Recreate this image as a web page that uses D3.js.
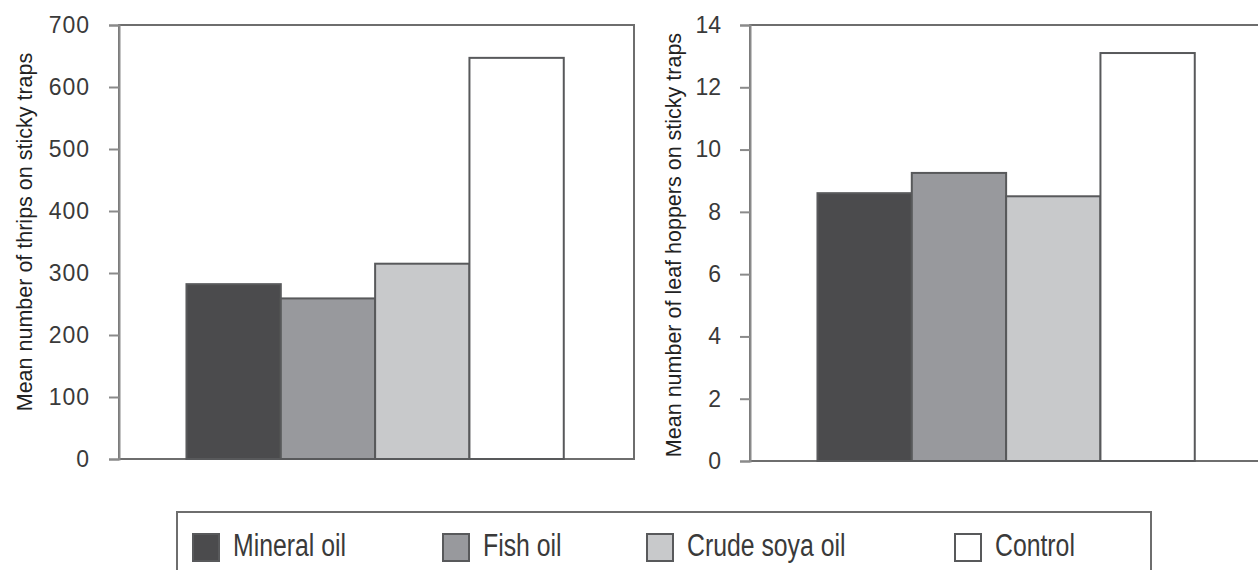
<!DOCTYPE html>
<html>
<head>
<meta charset="utf-8">
<script src="https://cdn.jsdelivr.net/npm/d3@7"></script>
<style>
  html, body { margin: 0; padding: 0; background: #fff; }
  svg { display: block; }
</style>
</head>
<body>
<svg id="chart" width="1258" height="570"></svg>
<script>
// ---- data ----
const series = ["Mineral oil", "Fish oil", "Crude soya oil", "Control"];
const thripsValues = [282, 259, 315, 647];
const hopperValues = [8.6, 9.25, 8.5, 13.1];
const thripsTicks = [0, 100, 200, 300, 400, 500, 600, 700];
const hopperTicks = [0, 2, 4, 6, 8, 10, 12, 14];
const thripsTitle = "Mean number of thrips on sticky traps";
const hopperTitle = "Mean number of leaf hoppers on sticky traps";

// ---- styles ----
const fills = ["#4b4b4d", "#98999d", "#c8c9cb", "#ffffff"];
const outline = "#58595b";
const frameColor = "#6e6e6e";
const textColor = "#3a3a3a";

const svg = d3.select("#chart");
const color = d3.scaleOrdinal().domain(series).range(fills);

function panel(opts) {
  const { left, right, top, bottom, values, ticks, title, titleX, titleY, spacing } = opts;
  const x = d3.scaleBand().domain(series).range([left, right])
    .paddingInner(0).paddingOuter(0.73).align(0.49);
  const y = d3.scaleLinear().domain([ticks[0], ticks[ticks.length - 1]]).range([bottom, top]);

  const g = svg.append("g");

  // frame
  g.append("rect")
    .attr("x", left).attr("y", top)
    .attr("width", right - left).attr("height", bottom - top)
    .attr("fill", "none").attr("stroke", frameColor).attr("stroke-width", 2);

  // bars
  g.selectAll("rect.bar").data(values).join("rect")
    .attr("class", "bar")
    .attr("x", (d, i) => x(series[i]))
    .attr("y", d => y(d))
    .attr("width", x.bandwidth())
    .attr("height", d => y(0) - y(d))
    .attr("fill", (d, i) => color(series[i]))
    .attr("stroke", outline)
    .attr("stroke-width", 2);

  // axis
  const axis = d3.axisLeft(y).tickValues(ticks).tickSize(10).tickPadding(19)
    .tickFormat(d3.format("d"));
  const ag = g.append("g").attr("transform", `translate(${left},0)`).call(axis);
  ag.select(".domain").attr("stroke", "#8a8a8a").attr("stroke-width", 2);
  ag.selectAll(".tick line").attr("stroke", "#8a8a8a").attr("stroke-width", 2);
  ag.selectAll(".tick text")
    .attr("fill", textColor)
    .style("font-family", "'Liberation Sans', Arial, sans-serif")
    .style("font-size", "23px")
    .style("letter-spacing", spacing + "px");

  // axis title
  g.append("text")
    .attr("transform", `translate(${titleX},${titleY}) rotate(-90)`)
    .attr("text-anchor", "middle")
    .attr("dominant-baseline", "central")
    .attr("fill", "#222")
    .style("font-family", "'Liberation Sans', Arial, sans-serif")
    .style("font-size", "21.5px")
    .text(title);
}

panel({ left: 119, right: 634, top: 25, bottom: 459, values: thripsValues,
        ticks: thripsTicks, title: thripsTitle, titleX: 25, titleY: 232, spacing: 1 });
panel({ left: 750, right: 1265, top: 25, bottom: 461, values: hopperValues,
        ticks: hopperTicks, title: hopperTitle, titleX: 674, titleY: 245, spacing: 0 });

// ---- legend ----
const legendX = [193, 443, 647, 955];
const lg = svg.append("g");
lg.append("rect")
  .attr("x", 177).attr("y", 512).attr("width", 974).attr("height", 80)
  .attr("fill", "none").attr("stroke", frameColor).attr("stroke-width", 2);

const items = lg.selectAll("g.item").data(series).join("g")
  .attr("class", "item")
  .attr("transform", (d, i) => `translate(${legendX[i]},0)`);
items.append("rect")
  .attr("x", 0).attr("y", 534).attr("width", 26).attr("height", 27)
  .attr("fill", d => color(d)).attr("stroke", outline).attr("stroke-width", 2);
items.append("text")
  .attr("transform", "translate(40,556) scale(0.8,1)")
  .attr("fill", textColor)
  .style("font-family", "'Liberation Sans', Arial, sans-serif")
  .style("font-size", "31px")
  .text(d => d);
</script>
</body>
</html>
